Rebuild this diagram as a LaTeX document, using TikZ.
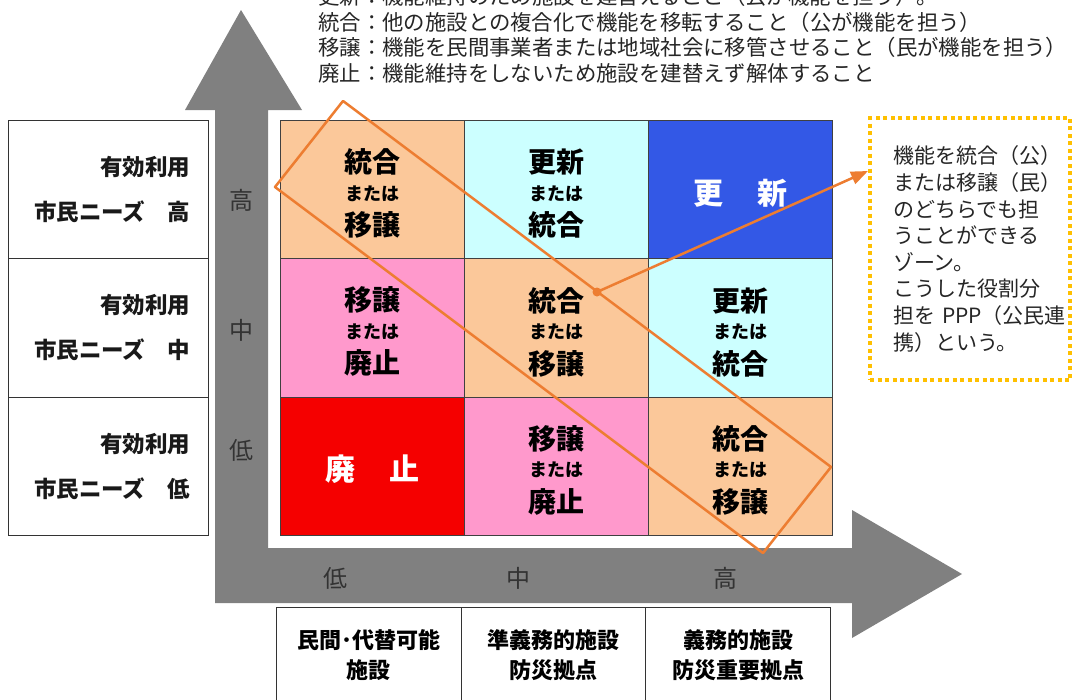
\documentclass[tikz,border=0pt]{standalone}
\usepackage{fontspec}
\setmainfont{Noto Sans CJK JP}
\usepackage{tikz}
\usetikzlibrary{arrows.meta}

\definecolor{arrowgray}{HTML}{808080}
\definecolor{peach}{HTML}{FBC89A}
\definecolor{paleblue}{HTML}{CCFFFF}
\definecolor{deepblue}{HTML}{3358E6}
\definecolor{rosepink}{HTML}{FF99CC}
\definecolor{alarmred}{HTML}{F50000}
\definecolor{zoneorange}{HTML}{ED7D31}
\definecolor{noteyellow}{HTML}{FFC000}
\definecolor{gridline}{HTML}{404040}

\newcommand{\bigjp}{\fontsize{28}{31.5}\selectfont}
\newcommand{\smalljp}{\fontsize{18}{20}\selectfont}
\newcommand{\orcell}[2]{{\bigjp\rule{0pt}{32pt}#1}\\[-4pt]{\smalljp または}\\[4pt]{\bigjp #2}}
\newcommand{\solocell}[2]{{\fontsize{30}{32}\selectfont\rule{0pt}{32pt}#1\hspace{1.15em}#2}}

\begin{document}
\begin{tikzpicture}[x=1pt, y=-1pt,
    cellbox/.style={draw=gridline, line width=0.8pt, minimum width=184pt, minimum height=138.33pt,
        inner sep=0pt, anchor=north west, align=center, font=\bigjp\bfseries},
    sidebox/.style={draw=black!80, line width=0.8pt, minimum height=138.33pt, text width=164pt,
        inner xsep=18pt, inner ysep=0pt, anchor=north west, align=right,
        font=\fontsize{22.5}{45}\selectfont\bfseries, text=black!90},
    basebox/.style={draw=black!80, line width=0.8pt, minimum width=184.67pt, minimum height=96pt,
        inner sep=0pt, anchor=north west, align=center, font=\fontsize{22}{30}\selectfont\bfseries},
    axislabel/.style={font=\fontsize{24}{24}\selectfont, text=black!80, inner sep=0pt},
    toptext/.style={anchor=base west, inner sep=0pt, font=\fontsize{21.4}{21.4}\selectfont, text=black!85},
    zone/.style={draw=zoneorange, line width=2.5pt, line join=round},
    zonearrow/.style={draw=zoneorange, line width=2.5pt, -{Triangle[length=17pt,width=13pt]}},
    notebox/.style={draw=noteyellow, line width=4pt, dash pattern=on 4pt off 3.5pt,
        minimum height=262pt, text width=154pt, inner xsep=23pt, inner ysep=0pt, align=left,
        font=\fontsize{21}{26.6}\selectfont, text=black!85}
]
    % Page frame
    \fill[white] (0,0) rectangle (1073,699);
    \useasboundingbox (0,0) rectangle (1073,699);

    % Definitions at the top (first line is cut by the page edge)
    \foreach \i/\txt in {0/更新：機能維持のため施設を建替えること（公が機能を担う）。,
                         1/統合：他の施設との複合化で機能を移転すること（公が機能を担う）,
                         2/移譲：機能を民間事業者または地域社会に移管させること（民が機能を担う）,
                         3/廃止：機能維持をしないため施設を建替えず解体すること}
        \node[toptext] (Def\i) at (318, {4.3+25.7*\i}) {\txt};

    % The two gray axis arrows
    \fill[arrowgray] (185,110) -- (241,10) -- (302,110) -- (268,110) -- (268,548)
        -- (852,548) -- (852,510) -- (962,574) -- (852,638) -- (852,603)
        -- (215,603) -- (215,110) -- cycle;

    % Axis levels
    \node[axislabel] (VHigh) at (241,200) {高};
    \node[axislabel] (VMid)  at (241,330) {中};
    \node[axislabel] (VLow)  at (241,450) {低};
    \node[axislabel] (HLow)  at (335,578) {低};
    \node[axislabel] (HMid)  at (518,578) {中};
    \node[axislabel] (HHigh) at (725,578) {高};

    % Row headings on the left
    \foreach \r/\lvl in {0/高, 1/中, 2/低}
        \node[sidebox] (Need\r) at (8, {120+138.33*\r}) {有効利用\\市民ニーズ　\lvl};

    % Column headings at the bottom
    \node[basebox] (Base0) at (276,607) {民間･代替可能\\施設};
    \node[basebox] (Base1) at (460.67,607) {準義務的施設\\防災拠点};
    \node[basebox] (Base2) at (645.33,607) {義務的施設\\防災重要拠点};

    % The 3x3 grid of cells
    \foreach \c/\r/\fillc/\txtc/\txt in {
        0/0/peach/black/\orcell{統合}{移譲},
        1/0/paleblue/black/\orcell{更新}{統合},
        2/0/deepblue/white/\solocell{更}{新},
        0/1/rosepink/black/\orcell{移譲}{廃止},
        1/1/peach/black/\orcell{統合}{移譲},
        2/1/paleblue/black/\orcell{更新}{統合},
        0/2/alarmred/white/\solocell{廃}{止},
        1/2/rosepink/black/\orcell{移譲}{廃止},
        2/2/peach/black/\orcell{統合}{移譲}}
        \node[cellbox, fill=\fillc, text=\txtc] (Cell\c\r) at ({280+184*\c}, {120+138.33*\r}) {\txt};

    % Zone where either role can take over
    \coordinate (ZL) at (275,187);
    \coordinate (ZT) at (343,101);
    \coordinate (ZR) at (831,467);
    \coordinate (ZB) at (763,553);
    \draw[zone] (ZL) -- (ZT) -- (ZR) -- (ZB) -- cycle;

    % Note box and its pointer
    \node[notebox] (Note) at (970,249) {機能を統合（公）\\または移譲（民）\\のどちらでも担\\うことができる\\ゾーン。\\こうした役割分\\担を~PPP（公民連\\携）という。};
    \coordinate (ZoneDot) at (597,292);
    \coordinate (NoteTip) at (Note.west |- 0,171);
    \fill[zoneorange] (ZoneDot) circle (4.5pt);
    \draw[zonearrow] (ZoneDot) -- (NoteTip);
\end{tikzpicture}
\end{document}
